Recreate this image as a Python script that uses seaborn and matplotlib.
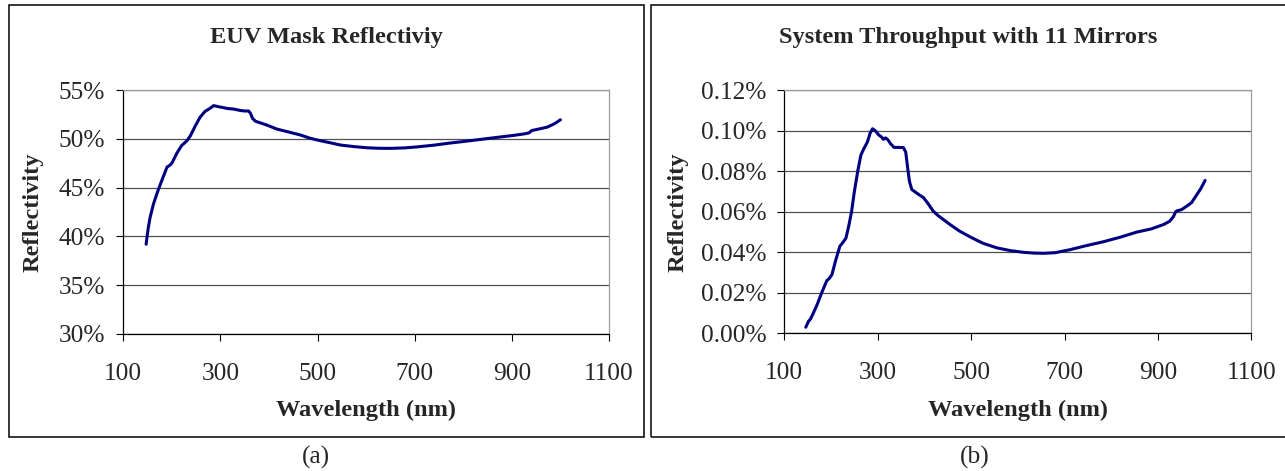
import matplotlib
matplotlib.use("Agg")
import matplotlib.pyplot as plt
from matplotlib.ticker import FuncFormatter, MultipleLocator
from matplotlib.patches import Rectangle
import seaborn as sns
import pandas as pd

# ---- data ----
wl_a = [147, 149, 151.5, 155, 162, 170, 176, 183, 190, 196, 200, 210, 220, 231, 238, 248,
        258, 268, 278, 286, 300, 315, 327, 341, 350, 358, 362, 366, 372, 384, 396, 416,
        440, 464, 485, 506, 530, 547, 575, 602, 625, 650, 680, 705, 740, 770, 800, 836,
        870, 904, 925, 935, 941, 946, 960, 973, 988, 1000]
refl_a = [39.2, 40.0, 40.9, 41.9, 43.3, 44.5, 45.3, 46.2, 47.1, 47.3, 47.5, 48.5, 49.3, 49.8,
          50.3, 51.3, 52.2, 52.8, 53.1, 53.4, 53.25, 53.1, 53.05, 52.9, 52.85, 52.85, 52.6,
          52.1, 51.8, 51.6, 51.4, 51.0, 50.7, 50.4, 50.05, 49.8, 49.55, 49.36, 49.2, 49.08,
          49.03, 49.02, 49.07, 49.17, 49.35, 49.55, 49.72, 49.94, 50.15, 50.35, 50.5, 50.6,
          50.85, 50.9, 51.05, 51.2, 51.55, 51.95]

wl_b = [146, 152, 156, 162, 170, 180, 191, 196, 202, 210, 219, 226, 232, 238, 244, 250, 258,
        264, 270, 278, 284, 289, 295, 302, 308, 312, 317, 322, 328, 335, 345, 355, 360, 364,
        368, 373, 385, 398, 408, 419, 430, 455, 475, 498, 525, 555, 585, 612, 635, 655, 680,
        712, 745, 783, 820, 855, 885, 912, 925, 933, 938, 941, 950, 960, 972, 982, 992, 1001]
thru_b = [0.003, 0.006, 0.007, 0.0099, 0.014, 0.020, 0.026, 0.027, 0.029, 0.036, 0.043, 0.045,
          0.047, 0.053, 0.060, 0.070, 0.081, 0.088, 0.091, 0.0945, 0.099, 0.101, 0.100, 0.098,
          0.097, 0.0958, 0.0965, 0.0955, 0.0935, 0.0918, 0.0918, 0.0917, 0.0895, 0.082, 0.075,
          0.071, 0.069, 0.067, 0.064, 0.0603, 0.058, 0.0537, 0.0505, 0.0476, 0.0445, 0.0422,
          0.0408, 0.0400, 0.0396, 0.0395, 0.0398, 0.0413, 0.0432, 0.0452, 0.0475, 0.0500,
          0.0515, 0.0537, 0.0553, 0.0575, 0.060, 0.0605, 0.0610, 0.0625, 0.0645, 0.068,
          0.0715, 0.0755]

x_ticks = [100, 300, 500, 700, 900, 1100]
titles = ["EUV Mask Reflectiviy", "System Throughput with 11 Mirrors"]
ylabel = "Reflectivity"
xlabel = "Wavelength (nm)"
panel_tags = ["(a)", "(b)"]

# ---- style ----
sns.set_style("white")
plt.rcParams['font.family'] = ['Liberation Serif', 'DejaVu Serif']
FS_TICK = 18.3
FS_BOLD = 17.6
LINE = '#000080'
GRID = '#505050'

W, H = 1285, 471
fig = plt.figure(figsize=(W / 100, H / 100), dpi=100)
fig.patch.set_facecolor('white')


def fx(px):
    return px / W


def fy(py):
    return (H - py) / H


# panel frames
fig.patches.append(Rectangle((fx(8.7), fy(437)), fx(643.5) - fx(8.7), fy(5) - fy(437),
                             transform=fig.transFigure, fill=False, edgecolor='black', lw=1.1))
fig.patches.append(Rectangle((fx(651), fy(437)), fx(1295) - fx(651), fy(5) - fy(437),
                             transform=fig.transFigure, fill=False, edgecolor='black', lw=1.1))

axes_px = [(123.3, 609.0, 90.0, 334.0), (784.3, 1251.3, 90.3, 333.3)]
datasets = [(wl_a, refl_a), (wl_b, thru_b)]
ylims = [(30, 55), (0.0, 0.12)]
ysteps = [5, 0.02]
yfmts = [lambda v, p: f"{v:.0f}%", lambda v, p: f"{v:.2f}%"]

for i in range(2):
    x0, x1, yt, yb = axes_px[i]
    ax = fig.add_axes([fx(x0), fy(yb), fx(x1) - fx(x0), fy(yt) - fy(yb)])
    ax.set_facecolor('white')
    df = pd.DataFrame({"wl": datasets[i][0], "val": datasets[i][1]})
    sns.lineplot(data=df, x="wl", y="val", ax=ax, color=LINE, lw=2.2, sort=False,
                 estimator=None)
    ax.set_xlim(100, 1100)
    ax.set_ylim(*ylims[i])
    ax.set_xticks(x_ticks)
    ax.yaxis.set_major_locator(MultipleLocator(ysteps[i]))
    ax.yaxis.set_major_formatter(FuncFormatter(yfmts[i]))
    ax.yaxis.grid(True, color=GRID, lw=0.9)
    ax.xaxis.grid(False)
    ax.set_axisbelow(True)
    for s in ['left', 'bottom']:
        ax.spines[s].set_color('black')
        ax.spines[s].set_linewidth(0.9)
    for s in ['top', 'right']:
        ax.spines[s].set_color('#9a9a9a')
        ax.spines[s].set_linewidth(0.9)
    ax.tick_params(axis='y', direction='out', length=5, width=0.8, color='black',
                   labelsize=FS_TICK, pad=8, left=True)
    ax.tick_params(axis='x', direction='out', length=5, width=0.8, color='black',
                   labelsize=FS_TICK, pad=16, bottom=True)
    ax.set_xlabel("")
    ax.set_ylabel("")

    # texts
    box_center = [326.0, 968.0][i]
    fig.text(fx(box_center), fy(37), titles[i], ha='center', va='center',
             fontsize=FS_BOLD, fontweight='bold')
    fig.text(fx((x0 + x1) / 2), fy(410), xlabel, ha='center', va='center',
             fontsize=FS_BOLD, fontweight='bold')
    fig.text(fx([33.0, 678.0][i]), fy((yt + yb) / 2), ylabel, ha='center', va='center',
             rotation=90, fontsize=FS_BOLD, fontweight='bold')
    fig.text(fx([316.0, 975.0][i]), fy(457), panel_tags[i], ha='center', va='center',
             fontsize=FS_TICK)

fig.savefig("out.png", dpi=100, facecolor='white')
